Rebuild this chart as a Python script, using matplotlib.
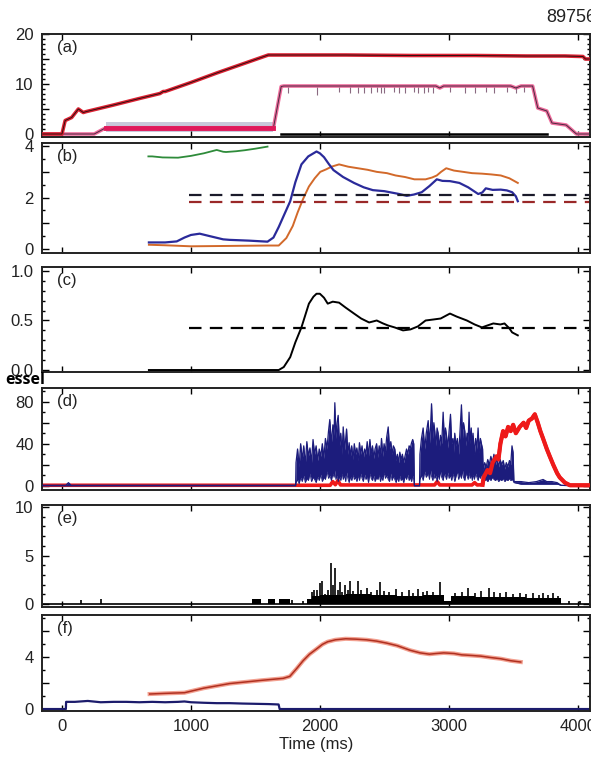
import numpy as np
import matplotlib
matplotlib.use("Agg")
import matplotlib.pyplot as plt
from matplotlib.ticker import MultipleLocator, FixedLocator, FuncFormatter

plt.rcParams['font.family'] = ['Liberation Sans', 'DejaVu Sans']
plt.rcParams['lines.scale_dashes'] = False

# ---------------- data ----------------
shot_label = "89756"
panel_labels = ["(a)", "(b)", "(c)", "(d)", "(e)", "(f)"]
x_ticks = [0, 1000, 2000, 3000, 4000]

# (a)
a_ip_t = [-150, 0, 20, 25, 75, 127, 165, 191, 400, 600, 760, 785, 800, 1000, 1200, 1400, 1600, 1700,
          2200, 2700, 3200, 3600, 3900, 4040, 4060, 4100]
a_ip_v = [0, 0, 2.2, 2.7, 3.3, 5.0, 4.3, 4.5, 5.8, 7.1, 8.1, 8.5, 8.5, 10.3, 12.2, 14.0, 15.8, 15.8,
          15.8, 15.7, 15.7, 15.6, 15.6, 15.5, 15.0, 15.0]
a_low_t = [340, 1640]
a_low_v = [1.25, 1.25]
a_band_lo = [0.35, 0.35]
a_band_hi = [2.4, 2.4]
a_pf_t = [-150, 250, 340, 1640, 1700, 1720, 2900, 2930, 2960, 3480, 3520, 3560, 3650, 3690, 3760, 3800,
          3910, 3990, 4100]
a_pf_v = [0, 0, 1.25, 1.25, 9.5, 9.6, 9.6, 9.2, 9.6, 9.6, 9.2, 9.6, 9.6, 5.2, 4.6, 2.2, 1.8, 0, 0]
a_spk_t = [1755, 1974, 2149, 2237, 2295, 2339, 2398, 2441, 2471, 2500, 2573, 2617, 2661, 2733, 2763,
           2806, 2836, 2880, 3011, 3128, 3201, 3288, 3347, 3449, 3523, 3581]
a_spk_lo = [8.3, 7.8, 8.4, 8.3, 8.2, 8.3, 8.2, 8.4, 8.3, 8.2, 8.4, 8.3, 8.2, 8.4, 8.3, 8.2, 8.4, 8.3,
            8.4, 8.3, 8.2, 8.4, 8.3, 8.4, 8.3, 8.4]
a_base_t = [1700, 3760]
a_base_v = [0, 0]

# (b)
b_green_t = [670, 700, 780, 900, 1000, 1100, 1200, 1250, 1272, 1350, 1419, 1500, 1594]
b_green_v = [3.6, 3.6, 3.56, 3.55, 3.62, 3.72, 3.85, 3.78, 3.77, 3.8, 3.84, 3.9, 3.98]
b_blue_t = [674, 800, 890, 950, 1000, 1068, 1150, 1250, 1300, 1450, 1594, 1640, 1681, 1720, 1770, 1810,
            1857, 1910, 1974, 2000, 2032, 2070, 2105, 2180, 2265, 2340, 2411, 2500, 2615, 2674, 2730,
            2790, 2850, 2907, 2950, 3009, 3082, 3150, 3228, 3260, 3287, 3340, 3403, 3450, 3491, 3520, 3535]
b_blue_v = [0.26, 0.26, 0.3, 0.45, 0.55, 0.6, 0.5, 0.38, 0.36, 0.33, 0.29, 0.45, 0.86, 1.3, 1.86, 2.6,
            3.29, 3.6, 3.79, 3.72, 3.57, 3.3, 3.07, 2.8, 2.57, 2.4, 2.29, 2.25, 2.14, 2.07, 2.12,
            2.21, 2.45, 2.71, 2.65, 2.64, 2.57, 2.4, 2.14, 2.2, 2.36, 2.3, 2.31, 2.28, 2.21, 2.05, 1.86]
b_orange_t = [674, 800, 1000, 1200, 1400, 1600, 1681, 1740, 1790, 1828, 1870, 1915, 1960, 2003, 2050,
              2090, 2149, 2220, 2295, 2370, 2441, 2520, 2587, 2660, 2733, 2820, 2870, 2907, 2940, 2980,
              3040, 3111, 3180, 3257, 3330, 3403, 3470, 3535]
b_orange_v = [0.17, 0.15, 0.11, 0.12, 0.13, 0.14, 0.14, 0.43, 0.9, 1.43, 1.95, 2.43, 2.75, 3.0, 3.1,
              3.2, 3.29, 3.2, 3.14, 3.08, 3.0, 2.95, 2.86, 2.8, 2.71, 2.71, 2.78, 2.86, 3.0, 3.14,
              3.05, 3.0, 2.95, 2.93, 2.9, 2.86, 2.75, 2.57]
b_ref_t = [985, 4100]
b_ref_black = [2.1, 2.1]
b_ref_red = [1.83, 1.83]

# (c)
c_t = [674, 1681, 1720, 1770, 1810, 1857, 1915, 1950, 1974, 2000, 2032, 2061, 2100, 2149, 2200, 2265,
       2320, 2382, 2441, 2490, 2528, 2580, 2645, 2703, 2760, 2820, 2880, 2937, 2980, 3009, 3060, 3140,
       3200, 3257, 3300, 3345, 3400, 3432, 3470, 3491, 3535]
c_v = [0, 0, 0.03, 0.13, 0.28, 0.43, 0.67, 0.74, 0.77, 0.77, 0.73, 0.67, 0.69, 0.68, 0.63, 0.57,
       0.52, 0.48, 0.5, 0.47, 0.45, 0.43, 0.40, 0.41, 0.44, 0.5, 0.51, 0.52, 0.55, 0.57, 0.54, 0.5,
       0.46, 0.43, 0.45, 0.47, 0.46, 0.47, 0.42, 0.38, 0.35]
c_ref_t = [985, 4100]
c_ref_v = [0.42, 0.42]

# (d)
d_blue_t = [-150, 30, 50, 70, 1812,
            1815, 1827, 1839, 1851, 1863, 1875, 1887, 1899, 1911, 1923, 1935, 1947, 1959, 1971, 1983,
            1995, 2007, 2019, 2031, 2043, 2055, 2067, 2077, 2089, 2101, 2110, 2116, 2124, 2133, 2142,
            2152, 2162, 2172, 2181, 2192, 2200, 2207, 2217, 2227, 2237, 2247, 2257, 2267, 2277, 2287,
            2297, 2307, 2317, 2327, 2337, 2347, 2357, 2367, 2377, 2388, 2398, 2408, 2418, 2428, 2440,
            2450, 2460, 2470, 2478, 2488, 2498, 2508, 2518, 2530, 2540, 2550, 2560, 2570, 2581, 2591,
            2601, 2611, 2620, 2630, 2640, 2650, 2660, 2672, 2682, 2692, 2702, 2711, 2720, 2728, 2733,
            2773, 2776, 2788, 2801, 2813, 2825, 2840, 2850, 2858, 2866, 2876, 2884, 2891, 2900, 2909,
            2917, 2926, 2935, 2945, 2956, 2966, 2974, 2982, 2992, 3002, 3013, 3022, 3032, 3040, 3046,
            3056, 3066, 3076, 3086, 3098, 3106, 3114, 3124, 3132, 3142, 3150, 3157, 3165, 3174, 3182,
            3188, 3198, 3208, 3218, 3227, 3236, 3245, 3253, 3262, 3266,
            3278, 3290, 3302, 3314, 3326, 3338, 3350, 3362, 3374, 3386, 3398, 3410, 3422, 3434, 3446,
            3458, 3470, 3480, 3490, 3498, 3505,
            3560, 3620, 3680, 3731, 3760, 3800, 3840, 3870, 3950, 4100]
d_blue_hi = [0.5, 0.5, 3, 0.5, 0.5,
             22, 35, 18, 40, 25, 38, 20, 42, 28, 36, 22, 44, 30, 38, 24,
             35, 28, 40, 26, 45, 35, 52, 63, 40, 58, 48, 79, 45, 60, 67,
             38, 50, 30, 56, 34, 45, 54, 30, 41, 28, 38, 25, 40, 30, 36,
             24, 41, 30, 38, 26, 35, 30, 42, 28, 44, 30, 38, 26, 35, 40,
             27, 38, 30, 45, 28, 40, 32, 46, 56, 35, 42, 30, 38, 35, 24,
             30, 22, 32, 25, 30, 22, 28, 35, 30, 38, 36, 41, 44, 40, 0,
             0, 30, 45, 55, 35, 50, 62, 40, 55, 78, 45, 60, 52, 38, 55,
             50, 35, 48, 40, 70, 42, 55, 48, 36, 52, 68, 40, 45, 32, 50,
             38, 45, 30, 50, 77, 45, 60, 52, 38, 50, 42, 70, 40, 55, 35,
             50, 30, 45, 35, 55, 32, 45, 40, 35, 15,
             22, 18, 25, 20, 28, 22, 30, 20, 26, 18, 25, 20, 24, 16, 22,
             18, 24, 20, 38, 32, 4,
             4, 3, 4, 6, 4, 4, 3, 0.5, 0, 0]
d_blue_lo = [0, 0, 0, 0, 0,
             3, 6, 2, 8, 4, 10, 3, 7, 5, 12, 4, 8, 6, 3, 9,
             5, 11, 4, 8, 6, 14, 7, 10, 5, 12, 8, 15, 6, 10, 4,
             9, 5, 12, 6, 10, 4, 13, 7, 3, 9, 5, 11, 6, 8, 4,
             10, 5, 12, 7, 4, 11, 6, 9, 3, 12, 7, 5, 10, 4, 8,
             6, 11, 4, 9, 5, 13, 7, 10, 6, 4, 12, 5, 9, 6, 3,
             8, 4, 10, 5, 7, 3, 9, 6, 11, 5, 8, 4, 10, 6, 0,
             0, 6, 10, 5, 14, 8, 12, 6, 15, 9, 5, 12, 7, 10, 4,
             11, 6, 14, 8, 5, 12, 9, 6, 13, 7, 10, 5, 12, 8, 4,
             9, 14, 6, 11, 7, 15, 8, 5, 12, 9, 6, 13, 7, 10, 5,
             11, 6, 12, 8, 5, 10, 7, 12, 6, 5,
             5, 6, 4, 7, 5, 8, 6, 5, 7, 4, 6, 5, 7, 4, 6,
             5, 7, 5, 6, 5, 3,
             1.5, 1.5, 1.5, 1.5, 1.5, 1.5, 1.5, 0.5, 0, 0]
d_red_t = [-150, 2080, 2100, 2120, 2140, 2160, 2890, 2910, 2930, 3180, 3200, 3220, 3262, 3270, 3300,
           3320, 3340, 3369, 3385, 3400, 3421, 3440, 3460, 3480, 3499, 3520, 3550, 3580, 3600, 3620,
           3645, 3667, 3690, 3710, 3731, 3760, 3783, 3810, 3840, 3860, 3900, 3940, 4100]
d_red_v = [0.5, 0.5, 4, 1, 5, 0.8, 0.8, 4, 0.8, 0.8, 3, 0.8, 1, 8, 15,
           12, 22, 28, 25, 40, 52, 47, 56, 52, 58, 50, 56, 60, 55, 62,
           64, 68, 60, 52, 45, 35, 28, 20, 12, 8, 3, 0.5, 0.5]

# (e)
e_base_t = [-150, 1470, 1540, 1595, 1655, 1680, 1770, 1900, 1940, 2000, 2200, 2400, 2600, 2800, 2965,
            3020, 3200, 3400, 3600, 3800, 3870]
e_base_h = [0, 0.5, 0, 0.5, 0, 0.5, 0, 0.5, 0.8, 0.9, 1.0, 0.9, 0.8, 0.9, 0.3,
            0.8, 0.7, 0.7, 0.6, 0.6, 0]
e_spk_t = [150, 300, 1780, 1871, 1936, 1955, 1974, 2000, 2013, 2039, 2060, 2090, 2105, 2116, 2140,
           2155, 2175, 2194, 2215, 2233, 2260, 2297, 2320, 2362, 2400, 2440, 2465, 2500, 2540, 2594,
           2640, 2690, 2720, 2762, 2800, 2827, 2880, 2935, 3050, 3100, 3149, 3200, 3250, 3312, 3350,
           3400, 3446, 3500, 3550, 3600, 3653, 3700, 3731, 3770, 3808, 3850, 3930, 4015]
e_spk_h = [0.45, 0.5, 0.4, 0.35, 1.2, 1.5, 1.4, 2.2, 2.4, 1.0, 1.5, 4.2, 2.0, 3.7, 1.5,
           2.3, 1.2, 2.0, 1.4, 2.4, 1.3, 2.4, 1.5, 1.7, 1.2, 1.4, 2.3, 1.3, 1.2, 1.6,
           1.2, 1.4, 1.1, 1.6, 1.2, 1.3, 1.2, 2.3, 1.1, 1.2, 1.7, 1.1, 1.3, 1.7, 1.2,
           1.1, 1.2, 1.0, 1.1, 1.0, 1.1, 0.9, 1.1, 0.9, 1.1, 0.8, 0.3, 0.3]

# (f)
f_red_t = [680, 800, 950, 1100, 1300, 1550, 1716, 1767, 1820, 1870, 1920, 1974, 2020, 2060, 2120,
           2200, 2280, 2362, 2440, 2517, 2600, 2700, 2778, 2850, 2900, 2961, 3041, 3100, 3180, 3248,
           3320, 3403, 3480, 3558]
f_red_v = [1.15, 1.2, 1.25, 1.6, 1.95, 2.2, 2.35, 2.5, 3.1, 3.7, 4.2, 4.6, 4.95, 5.15, 5.3,
           5.38, 5.35, 5.3, 5.2, 5.05, 4.85, 4.5, 4.3, 4.2, 4.25, 4.3, 4.25, 4.15, 4.1, 4.05,
           3.95, 3.85, 3.7, 3.6]
f_blue_t = [-150, 30, 32, 100, 200, 300, 400, 500, 600, 700, 800, 900, 950, 1000, 1100, 1200, 1300,
            1400, 1500, 1600, 1680, 1688, 1700, 4100]
f_blue_v = [0, 0, 0.55, 0.55, 0.62, 0.52, 0.55, 0.55, 0.52, 0.55, 0.52, 0.55, 0.58, 0.52, 0.48, 0.45,
            0.45, 0.42, 0.4, 0.38, 0.35, 0, 0, 0]

# ---------------- layout ----------------
W, H = 591, 759
fig = plt.figure(figsize=(W / 100, H / 100), dpi=100)
fig.patch.set_facecolor('white')

panels_px = [(34, 137), (143, 253), (267, 372), (388, 490), (505, 607), (615, 711)]
ylims = [(-0.6, 20), (-0.15, 4.12), (-0.02, 1.04), (-4, 93), (-0.3, 10.2), (-0.15, 7.2)]
major = [5, 1, 0.5, 20, 5, 2]
minor = [1, 0.5, 0.1, 10, 1, 1]
shown = [[0, 10, 20], [0, 2, 4], [0.0, 0.5, 1.0], [0, 40, 80], [0, 5, 10], [0, 4]]
fmts = ['{:.0f}', '{:.0f}', '{:.1f}', '{:.0f}', '{:.0f}', '{:.0f}']
XL, XR = 42, 590
axes = []
for i, (top, bot) in enumerate(panels_px):
    ax = fig.add_axes([XL / W, 1 - bot / H, (XR - XL) / W, (bot - top) / H])
    ax.set_xlim(-155, 4095)
    ax.set_ylim(*ylims[i])
    ax.xaxis.set_major_locator(FixedLocator(x_ticks))
    ax.yaxis.set_major_locator(MultipleLocator(major[i]))
    ax.yaxis.set_minor_locator(MultipleLocator(minor[i]))
    sh, fm = shown[i], fmts[i]
    ax.yaxis.set_major_formatter(FuncFormatter(
        lambda v, p, sh=sh, fm=fm: fm.format(v) if any(abs(v - s) < 1e-6 for s in sh) else ''))
    ax.tick_params(which='both', direction='in', top=True, right=True, labelsize=12,
                   labelcolor='#222222', width=1.0, pad=6)
    ax.tick_params(which='major', length=5)
    ax.tick_params(which='minor', length=2.5)
    ax.tick_params(axis='x', which='major', length=4)
    if i < 5:
        ax.tick_params(axis='x', labelbottom=False)
    for s in ax.spines.values():
        s.set_linewidth(1.4)
        s.set_color('#222222')
    ax.text(15 / (XR - XL), 1 - 6 / (bot - top), panel_labels[i], transform=ax.transAxes,
            ha='left', va='top', fontsize=12, color='#222222')
    axes.append(ax)

axa, axb, axc, axd, axe, axf = axes

# (a)
axa.fill_between(a_low_t, a_band_lo, a_band_hi, color='#c8c8da', lw=0, zorder=1)
axa.plot(a_pf_t, a_pf_v, color='#ee6c9c', lw=2.6, zorder=2)
axa.plot(a_pf_t, a_pf_v, color='#4a2a40', lw=0.7, zorder=3)
axa.plot(a_low_t, a_low_v, color='#e0185a', lw=3.5, zorder=3)
axa.vlines(a_spk_t, a_spk_lo, [9.5] * len(a_spk_t), color='#8a6a80', lw=0.8, zorder=2)
axa.plot(a_base_t, a_base_v, color='black', lw=1.8, zorder=3)
axa.plot(a_ip_t, a_ip_v, color='#dd2233', lw=2.6, zorder=4)
axa.plot(a_ip_t, a_ip_v, color='#301010', lw=0.7, zorder=5)

# (b)
axb.plot(b_green_t, b_green_v, color='#2e8b3a', lw=1.3)
axb.plot(b_orange_t, b_orange_v, color='#d2692a', lw=1.4)
axb.plot(b_blue_t, b_blue_v, color='#2a2a9a', lw=1.6)
lb1, = axb.plot(b_ref_t, b_ref_black, color='#1a1a2a', lw=1.6)
lb2, = axb.plot(b_ref_t, b_ref_red, color='#9a2828', lw=1.6)
lb1.set_dashes((9, 6))
lb2.set_dashes((9, 6))

# (c)
axc.plot(c_t, c_v, color='black', lw=1.4)
lc, = axc.plot(c_ref_t, c_ref_v, color='black', lw=1.6)
lc.set_dashes((9, 6))

# (d)
axd.plot(d_red_t, d_red_v, color='#ee1a1a', lw=2.6, zorder=2)
axd.fill_between(d_blue_t, d_blue_lo, d_blue_hi, color='#1c1c7c', lw=0, zorder=3)
axd.plot(d_blue_t, d_blue_hi, color='#1c1c7c', lw=0.9, zorder=3)
axd.plot(d_blue_t, d_blue_lo, color='#1c1c7c', lw=0.6, zorder=3)
axd.plot(d_red_t[12:], d_red_v[12:], color='#ee1a1a', lw=3.0, zorder=4)

# (e)
axe.fill_between(e_base_t, 0, e_base_h, step='post', color='black', lw=0)
axe.vlines(e_spk_t, 0, e_spk_h, color='black', lw=1.2)
axe.plot([-150, 4100], [0, 0], color='black', lw=1.2)

# (f)
axf.plot(f_blue_t, f_blue_v, color='#1c1c6c', lw=1.6)
axf.plot(f_red_t, f_red_v, color='#f2a090', lw=3.0)
axf.plot(f_red_t, f_red_v, color='#b03020', lw=1.1)
axf.set_xticklabels([str(t) for t in x_ticks])
axf.set_xlabel('Time (ms)', fontsize=12, color='#222222', labelpad=2)

# figure texts
fig.text(546 / W, 1 - 18 / H, shot_label, fontsize=13, color='#222222', ha='left', va='center')
fig.text(45 / W, 1 - 384 / H, 'essel', fontsize=11.5, fontweight='bold', family=['Open Sans', 'DejaVu Sans'],
         ha='right', va='baseline', color='black')

fig.savefig('out.png', dpi=100)
